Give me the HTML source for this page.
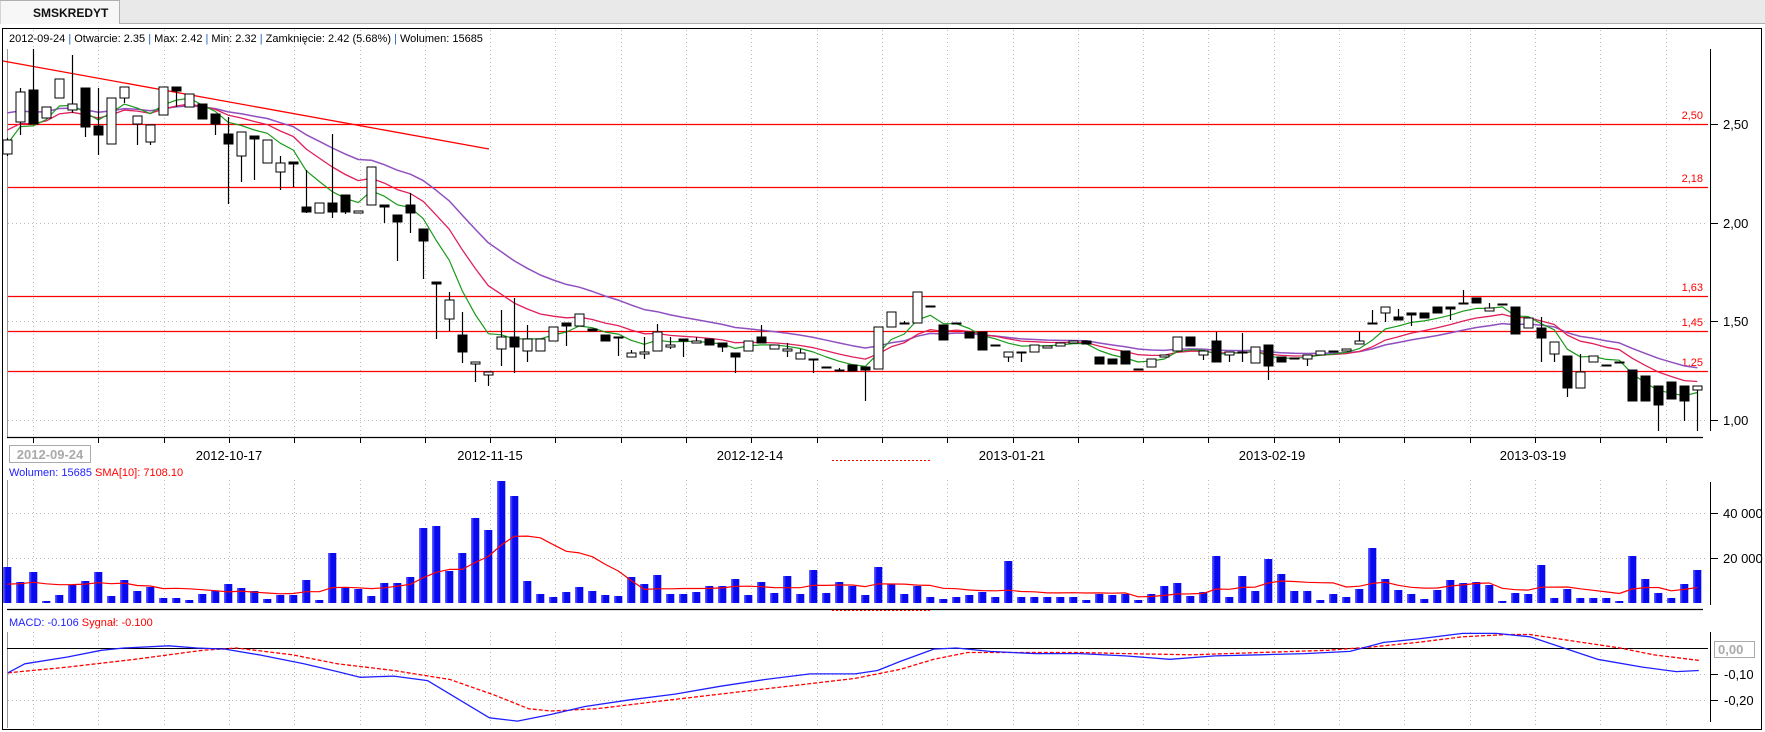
<!DOCTYPE html>
<html><head><meta charset="utf-8">
<style>
html,body{margin:0;padding:0;background:#fff;}
svg{display:block;font-family:"Liberation Sans",sans-serif;}
</style></head>
<body>
<svg id="s" width="1765" height="732" xmlns="http://www.w3.org/2000/svg">
<rect x="0" y="0" width="1765" height="732" fill="#fff"/>
<rect x="0" y="0" width="1765" height="24" fill="#e9e9e9"/>
<line x1="0" y1="23.5" x2="1765" y2="23.5" stroke="#b0b0b0"/>
<path d="M0 24 V0.5 H119.5 V24" fill="#f7f7f7" stroke="#b0b0b0"/>
<text x="33" y="17" font-size="12" font-weight="bold" fill="#111">SMSKREDYT</text>
<rect x="2.5" y="28.5" width="1759" height="701" fill="#fff" stroke="#000"/>
<g id="g"></g>
</svg>
<script>
const NS="http://www.w3.org/2000/svg",G=document.getElementById('g');
function el(t,a,txt){const e=document.createElementNS(NS,t);for(const k in a)e.setAttribute(k,a[k]);if(txt!==undefined)e.textContent=txt;G.appendChild(e);return e;}
function ln(x1,y1,x2,y2,st,w,da){const a={x1,y1,x2,y2,stroke:st,'stroke-width':w||1};if(da)a['stroke-dasharray']=da;return el('line',a);}
function pl(pts,st,w,da){const a={points:pts.map(p=>p[0].toFixed(1)+','+p[1].toFixed(1)).join(' '),fill:'none',stroke:st,'stroke-width':w||1,'stroke-linejoin':'round'};if(da)a['stroke-dasharray']=da;return el('polyline',a);}
const X=i=>7.3+13*i;
// vertical grid
for(let k=0;k<26;k++){const x=Math.round(33+65.3*k)+0.5;if(x>1700)break;
 ln(x,30,x,437,'#bbb',1,'1 3');ln(x,480,x,603,'#bbb',1,'1 3');ln(x,632,x,728,'#bbb',1,'1 3');
 ln(x,437,x,443,'#000',1);}
// horizontal grid price
[223,321,420].forEach(y=>ln(8,y+.5,1708,y+.5,'#bbb',1,'1 3'));
[513,558].forEach(y=>ln(8,y+.5,1708,y+.5,'#bbb',1,'1 3'));
[674,700].forEach(y=>ln(8,y+.5,1708,y+.5,'#bbb',1,'1 3'));
// left gray line
ln(7.5,49,7.5,437,'#999',1);ln(7.5,480,7.5,603,'#999',1);ln(7.5,632,7.5,728,'#999',1);
// header
const h=el('text',{x:9,y:42,'font-size':11,fill:'#000'});
h.innerHTML='2012-09-24 <tspan fill="#2060c0">|</tspan> Otwarcie: 2.35 <tspan fill="#2060c0">|</tspan> Max: 2.42 <tspan fill="#2060c0">|</tspan> Min: 2.32 <tspan fill="#2060c0">|</tspan> Zamknięcie: 2.42 (5.68%)  <tspan fill="#2060c0">|</tspan> Wolumen: 15685';
// red horizontal lines
[[124,'2,50'],[187,'2,18'],[296,'1,63'],[331,'1,45'],[371,'1,25']].forEach(([y,t])=>{ln(8,y+.5,1708,y+.5,'#f00',1.3);el('text',{x:1703,y:y-5,'font-size':11,fill:'#f00','text-anchor':'end'},t);});
// trend line
ln(3,61,489,149,'#f00',1.3);
// axis
ln(1710.5,49,1710.5,431,'#000',1);
[[124,'2,50'],[223,'2,00'],[321,'1,50'],[420,'1,00']].forEach(([y,t])=>{ln(1711,y+.5,1718,y+.5,'#000');el('text',{x:1723,y:y+5,'font-size':13,fill:'#000'},t);});
ln(7,437.5,1703,437.5,'#000',1.2);
[[229,'2012-10-17'],[490,'2012-11-15'],[750,'2012-12-14'],[1012,'2013-01-21'],[1272,'2013-02-19'],[1533,'2013-03-19']].forEach(([x,t])=>el('text',{x,y:460,'font-size':13,fill:'#000','text-anchor':'middle'},t));
el('rect',{x:9.5,y:445.5,width:81,height:17,fill:'#fff',stroke:'#aaa'});
el('text',{x:50,y:459,'font-size':13,'font-weight':'bold',fill:'#aaa','text-anchor':'middle'},'2012-09-24');
ln(832,460.5,931,460.5,'#f00',1,'2 2');
// candles
const C=[[140,154,1,138,156],[92,122,1,88,135],[90,124,0,49,124],[107,118,1,107,118],[79,98,1,79,98],[104,110,1,55,113],[88,127,0,88,137],[126,135,0,88,155],[98,144,1,98,144],[87,98,1,87,103],[116,124,1,116,145],[125,142,1,125,145],[87,115,1,87,115],[87,91,0,87,107],[94,107,1,94,107],[104,119,0,104,119],[114,124,0,114,135],[134,144,0,117,204],[132,156,1,132,182],[136,139,0,136,180],[140,163,1,140,163],[163,172,1,156,190],[162,164,0,162,187],[207,212,0,170,213],[203,213,1,203,213],[203,212,0,134,218],[195,212,0,195,214],[211,213,1,211,213],[167,205,1,167,205],[205,207,0,205,223],[215,222,0,215,261],[205,213,0,193,233],[229,241,0,229,279],[282,284,0,282,339],[300,319,1,292,331],[335,352,0,312,363],[362,364,1,362,382],[372,375,1,372,386],[337,349,1,310,366],[337,347,0,298,373],[339,351,1,325,362],[339,351,1,339,351],[327,341,1,327,341],[323,326,0,323,346],[314,326,1,314,326],[329,331,0,329,331],[335,341,0,335,341],[337,338,0,337,356],[353,357,1,350,357],[352,354,1,337,359],[332,351,1,324,351],[345,347,1,337,349],[339,341,0,339,357],[341,343,1,337,343],[339,345,0,339,345],[343,347,0,343,352],[353,357,0,353,373],[341,351,1,341,351],[337,343,0,325,343],[345,349,1,345,349],[349,351,1,343,357],[353,359,1,349,359],[359,360,1,359,373],[367,368,1,367,368],[370,371,1,368,371],[365,371,0,365,371],[367,370,0,367,401],[327,369,1,327,369],[312,327,1,312,327],[323,324,1,321,324],[292,323,1,292,323],[306,307,1,306,307],[325,340,0,325,340],[323,324,0,323,324],[332,338,0,332,338],[332,350,0,332,350],[345,346,1,345,346],[352,357,1,352,362],[352,353,1,352,362],[345,352,1,345,352],[346,348,1,346,348],[343,346,1,343,346],[341,343,1,341,343],[341,344,0,341,344],[357,364,0,357,364],[359,364,0,359,364],[351,364,0,351,364],[369,370,0,369,370],[359,367,1,359,367],[355,357,1,355,357],[337,351,1,337,351],[337,346,0,337,346],[351,355,1,351,360],[341,362,0,332,362],[352,355,1,352,362],[352,353,1,333,362],[347,363,1,347,363],[345,366,0,345,380],[357,362,0,357,362],[358,359,0,358,359],[355,359,1,355,366],[351,355,1,351,355],[351,352,0,351,352],[349,351,1,349,351],[341,344,1,332,344],[323,324,1,310,324],[307,313,1,307,322],[317,320,0,309,320],[313,315,0,313,326],[313,318,0,313,318],[307,313,0,307,313],[307,309,0,307,320],[303,304,1,290,304],[298,303,0,298,303],[308,311,1,303,311],[304,305,1,304,305],[307,334,0,307,334],[318,328,1,318,328],[328,338,0,317,362],[342,354,1,342,362],[356,388,0,356,397],[372,388,1,354,388],[356,362,1,356,362],[365,366,1,365,366],[362,363,1,362,363],[370,401,0,370,401],[376,401,0,376,401],[386,405,0,386,431],[382,399,0,382,399],[386,401,0,386,421],[386,390,1,386,431]];
// MAs
const cl=C.map(c=>c[2]?c[0]:c[1]);
function ema(init,p){const a=2/(p+1);let v=init;return cl.map(c=>(v=v+a*(c-v)));}
const g=ema(146,5),r=ema(128,11),pu=ema(110,20);
pl(pu.map((v,i)=>[X(i),v]),'#9050c0',1.5);
pl(r.map((v,i)=>[X(i),v]),'#e0205a',1.3);
pl(g.map((v,i)=>[X(i),v]),'#1a9a1a',1.2);
C.forEach((c,i)=>{const x=Math.round(X(i))+0.5;
 ln(x,c[3],x,c[4],'#000',1.2);
 const hgt=Math.max(c[1]-c[0],1);
 el('rect',{x:x-4.5,y:c[0],width:9,height:hgt,fill:c[2]?'#fff':'#000',stroke:'#000','stroke-width':1});});
// volume panel
const lbl=el('text',{x:9,y:476,'font-size':11});
lbl.innerHTML='<tspan fill="#2020ff">Wolumen: 15685</tspan> <tspan fill="#f00">SMA[10]: 7108.10</tspan>';
const V=[36,21,31,2,8,18,22,31,7,23,12,16,5,5,3,9,12,19,15,12,4,8,8,23,3,50,15,14,7,20,20,26,75,77,32,50,85,73,122,107,22,9,6,11,16,12,8,7,26,19,28,9,9,11,17,17,24,8,21,10,27,9,33,10,21,17,8,36,19,9,17,6,4,6,8,11,6,42,6,6,6,6,6,3,9,8,9,3,9,17,20,7,11,47,6,27,12,44,29,12,12,3,9,6,14,55,24,13,9,4,13,23,20,21,18,2,10,9,38,5,14,5,5,5,2,47,24,10,5,19,33];
V.forEach((v,i)=>{const x=X(i);el('rect',{x:x-4,y:603-v,width:8,height:v,fill:'#0a0aee'});el('rect',{x:x-4,y:603-v,width:2,height:v,fill:'#3a3aff'});});
const hist=[17,17,17,17,17,17,17,17,17].concat(V);
const sm=V.map((v,i)=>{let s=0;for(let k=0;k<10;k++)s+=hist[i+9-k];return 603-s/10;});
pl(sm.map((v,i)=>[X(i),v]),'#f00',1.2);
ln(1710.5,482,1710.5,605,'#000');
[[513,'40 000'],[558,'20 000']].forEach(([y,t])=>{ln(1711,y+.5,1718,y+.5,'#000');el('text',{x:1723,y:y+5,'font-size':13,fill:'#000'},t);});
ln(7,609.5,1703,609.5,'#000',1.2);
ln(832,610.5,931,610.5,'#f00',1,'2 2');
// MACD
const ml=el('text',{x:9,y:626,'font-size':11});
ml.innerHTML='<tspan fill="#2020ff">MACD: -0.106</tspan>  <tspan fill="#f00">Sygnał: -0.100</tspan>';
ln(7,648.5,1708,648.5,'#000',1);
ln(1710.5,632,1710.5,722,'#000');
el('rect',{x:1714.5,y:641.5,width:40,height:16,fill:'#fff',stroke:'#aaa'});
el('text',{x:1718,y:654,'font-size':13,fill:'#aaa','font-weight':'bold'},'0,00');
[[674,'-0,10'],[700,'-0,20']].forEach(([y,t])=>{ln(1711,y+.5,1718,y+.5,'#000');el('text',{x:1724,y:y+5,'font-size':13,fill:'#000'},t);});
const s=1.125;
const B=[[7,598],[22,590],[60,584],[90,578],[110,576],[150,574],[175,576],[200,577],[230,582],[270,590],[300,597],[320,602],[350,601],[380,605],[410,623],[435,638],[460,641],[490,635],[520,628],[560,622],[600,617],[640,610],[680,604],[720,599],[760,599],[780,596],[800,588],[830,577],[850,576],[880,579],[920,581],[960,581],[1000,583],[1040,586],[1080,583],[1120,582],[1160,581],[1200,579],[1230,571],[1260,568],[1300,563],[1330,563],[1360,566],[1390,576],[1420,586],[1460,593],[1490,597],[1510,596]];
const R=[[7,598],[60,593],[120,586],[180,578],[210,576],[260,582],[300,590],[350,596],[400,604],[440,618],[470,630],[490,632],[530,630],[580,624],[640,617],[700,610],[760,603],[800,595],[830,586],[860,580],[900,580],[960,580],[1000,581],[1060,582],[1120,580],[1180,578],[1220,575],[1260,571],[1300,566],[1340,564],[1360,564],[1400,570],[1440,576],[1470,582],[1510,587]];
pl(R.map(p=>[p[0]*s,p[1]*s]),'#f00',1.3,'4 2');
pl(B.map(p=>[p[0]*s,p[1]*s]),'#2020ff',1.3);
</script>
</body></html>
